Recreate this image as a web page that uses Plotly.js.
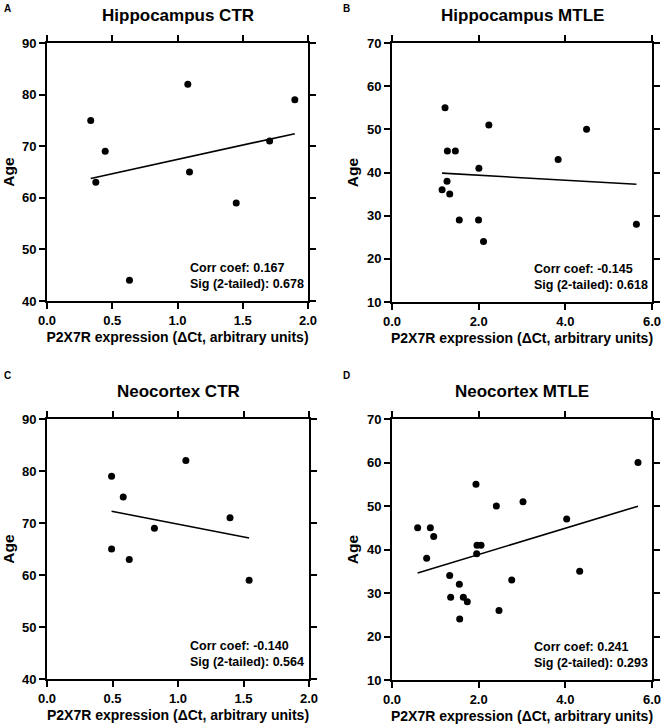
<!DOCTYPE html>
<html>
<head>
<meta charset="utf-8">
<script src="https://cdn.plot.ly/plotly-3.0.1.min.js"></script>
<style>html,body{margin:0;padding:0;background:#fff;}#chart{width:661px;height:725px;}</style>
</head>
<body>
<div id="chart"></div>
<script>
// ---- data ----
const panelLetters = ["A", "B", "C", "D"];
const panelTitles = ["Hippocampus CTR", "Hippocampus MTLE", "Neocortex CTR", "Neocortex MTLE"];
const corrCoefs = ["0.167", "-0.145", "-0.140", "0.241"];
const sigValues = ["0.678", "0.618", "0.564", "0.293"];
const xAxisTitle = "P2X7R expression (ΔCt, arbitrary units)";
const yAxisTitle = "Age";

const hipCtrX = [0.335, 0.374, 0.446, 0.632, 1.079, 1.092, 1.450, 1.706, 1.899];
const hipCtrY = [75, 63, 69, 44, 82, 65, 59, 71, 79];

const hipMtleX = [1.224, 1.156, 1.270, 1.278, 1.332, 1.462, 1.553, 1.997, 2.005, 2.112, 2.235, 3.834, 4.490, 5.640];
const hipMtleY = [55, 36, 38, 45, 35, 45, 29, 29, 41, 24, 51, 43, 50, 28];

const neoCtrX = [0.493, 0.493, 0.582, 0.628, 0.820, 1.060, 1.397, 1.543];
const neoCtrY = [79, 65, 75, 63, 69, 82, 71, 59];

const neoMtleX = [0.592, 0.800, 0.885, 0.962, 1.331, 1.354, 1.554, 1.562, 1.646, 1.738, 1.938, 1.954, 1.962, 2.054, 2.408, 2.469, 2.762, 3.023, 4.031, 4.331, 5.677];
const neoMtleY = [45, 38, 45, 43, 34, 29, 32, 24, 29, 28, 55, 39, 41, 41, 50, 26, 33, 51, 47, 35, 60];

const xRanges = [[0, 2], [0, 6], [0, 2], [0, 6]];
const xDticks = [0.5, 2, 0.5, 2];
const yRanges = [[40, 90], [10, 70], [40, 90], [10, 70]];

// ---- build ----
const datasets = [[hipCtrX, hipCtrY], [hipMtleX, hipMtleY], [neoCtrX, neoCtrY], [neoMtleX, neoMtleY]];

function fit(xs, ys) {
  const n = xs.length;
  const mx = xs.reduce((a, b) => a + b, 0) / n;
  const my = ys.reduce((a, b) => a + b, 0) / n;
  let sxy = 0, sxx = 0;
  for (let i = 0; i < n; i++) { sxy += (xs[i] - mx) * (ys[i] - my); sxx += (xs[i] - mx) ** 2; }
  const b = sxy / sxx, a = my - b * mx;
  const x0 = Math.min(...xs), x1 = Math.max(...xs);
  return { x: [x0, x1], y: [a + b * x0, a + b * x1] };
}

const W = 661, H = 725;
// plot areas in pixels [left, right, top, bottom]
const boxes = [[47, 308, 43, 301], [392, 652, 43, 302], [47, 309, 419, 679], [392, 652, 419, 680]];

const FONT = "Liberation Sans, Arial, Helvetica, sans-serif";
const traces = [];
const layout = {
  width: W, height: H,
  margin: { l: 0, r: 0, t: 0, b: 0 },
  paper_bgcolor: "#fff", plot_bgcolor: "#fff",
  showlegend: false,
  font: { family: FONT, color: "#000" },
  annotations: []
};

datasets.forEach((d, i) => {
  const k = i === 0 ? "" : String(i + 1);
  const xa = "x" + k, ya = "y" + k;
  traces.push({ x: d[0], y: d[1], type: "scatter", mode: "markers", xaxis: xa, yaxis: ya,
    marker: { color: "#000", size: 7 }, cliponaxis: false, hoverinfo: "skip" });
  const f = fit(d[0], d[1]);
  traces.push({ x: f.x, y: f.y, type: "scatter", mode: "lines", xaxis: xa, yaxis: ya,
    line: { color: "#000", width: 1.6 }, hoverinfo: "skip" });

  const b = boxes[i];
  const axCommon = {
    showline: true, linecolor: "#000", linewidth: 2, mirror: "ticks",
    ticks: "outside", ticklen: 6, tickwidth: 2, tickcolor: "#000",
    showgrid: false, zeroline: false, fixedrange: true, ticklabeloverflow: "allow",
    tickfont: { family: FONT, size: 13, weight: "bold", color: "#000" }
  };
  layout["xaxis" + k] = Object.assign({}, axCommon, {
    domain: [b[0] / W, b[1] / W], anchor: ya, range: xRanges[i], dtick: xDticks[i], tick0: 0,
    tickformat: ".1f",
    title: { text: xAxisTitle, font: { family: FONT, size: 14, weight: "bold", color: "#000" }, standoff: 6 }
  });
  layout["yaxis" + k] = Object.assign({}, axCommon, {
    domain: [1 - b[3] / H, 1 - b[2] / H], anchor: xa, range: yRanges[i], dtick: 10, tick0: 0,
    title: { text: yAxisTitle, font: { family: FONT, size: 15.5, weight: "bold", color: "#000" }, standoff: 5 }
  });

  // panel title
  layout.annotations.push({ xref: "paper", yref: "paper", x: (b[0] + b[1]) / 2 / W, y: 1 - (b[2] - 28) / H,
    xanchor: "center", yanchor: "middle", showarrow: false,
    text: panelTitles[i], font: { family: FONT, size: 17, weight: "bold", color: "#000" } });
  // panel letter
  layout.annotations.push({ xref: "paper", yref: "paper", x: (i % 2 === 0 ? 7 : 346) / W, y: 1 - (i < 2 ? 8 : 375) / H,
    xanchor: "center", yanchor: "middle", showarrow: false,
    text: panelLetters[i], font: { family: FONT, size: 10, weight: "bold", color: "#000" } });
  // stats
  layout.annotations.push({ xref: xa + " domain", yref: ya + " domain", x: 0.54, y: 0.03,
    xanchor: "left", yanchor: "bottom", align: "left", showarrow: false,
    text: "Corr coef: " + corrCoefs[i] + "<br>Sig (2-tailed): " + sigValues[i],
    font: { family: FONT, size: 12.5, weight: "bold", color: "#000" } });
});

Plotly.newPlot("chart", traces, layout, { displayModeBar: false, staticPlot: true });
</script>
</body>
</html>
